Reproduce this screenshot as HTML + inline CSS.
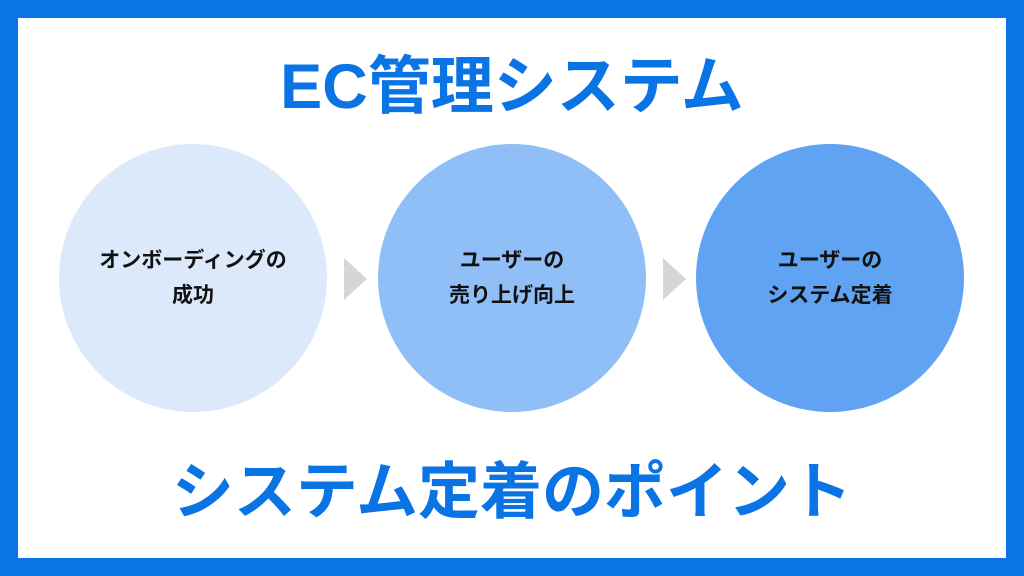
<!DOCTYPE html>
<html><head><meta charset="utf-8"><style>
body{margin:0;width:1024px;height:576px;overflow:hidden;background:#0b74e5;font-family:"Liberation Sans","Noto Sans CJK JP",sans-serif}
.in{position:absolute;left:18px;top:18px;width:988px;height:540px;background:#fff}
.t{position:absolute;left:0;width:1024px;text-align:center;color:#0b74e5;font-weight:bold}
.c{position:absolute;width:268px;height:268px;border-radius:50%;display:flex;align-items:center;justify-content:center;text-align:center;font-weight:bold;font-size:21px;line-height:35px;color:#111}
.a{position:absolute;width:0;height:0;border-top:21px solid transparent;border-bottom:21px solid transparent;border-left:23px solid #d6d6d6}
</style></head><body>
<div class="in"></div>
<div class="t" style="top:49px;font-size:63px;line-height:76px">EC管理システム</div>
<div class="c" style="left:59px;top:144px;background:#dce9fb">オンボーディングの<br>成功</div>
<div class="c" style="left:378px;top:144px;background:#90bff7">ユーザーの<br>売り上げ向上</div>
<div class="c" style="left:696px;top:144px;background:#5fa3f2">ユーザーの<br>システム定着</div>
<div class="a" style="left:344px;top:258px"></div>
<div class="a" style="left:663px;top:258px"></div>
<div class="t" style="top:455px;font-size:62px;line-height:76px">システム定着のポイント</div>
</body></html>
